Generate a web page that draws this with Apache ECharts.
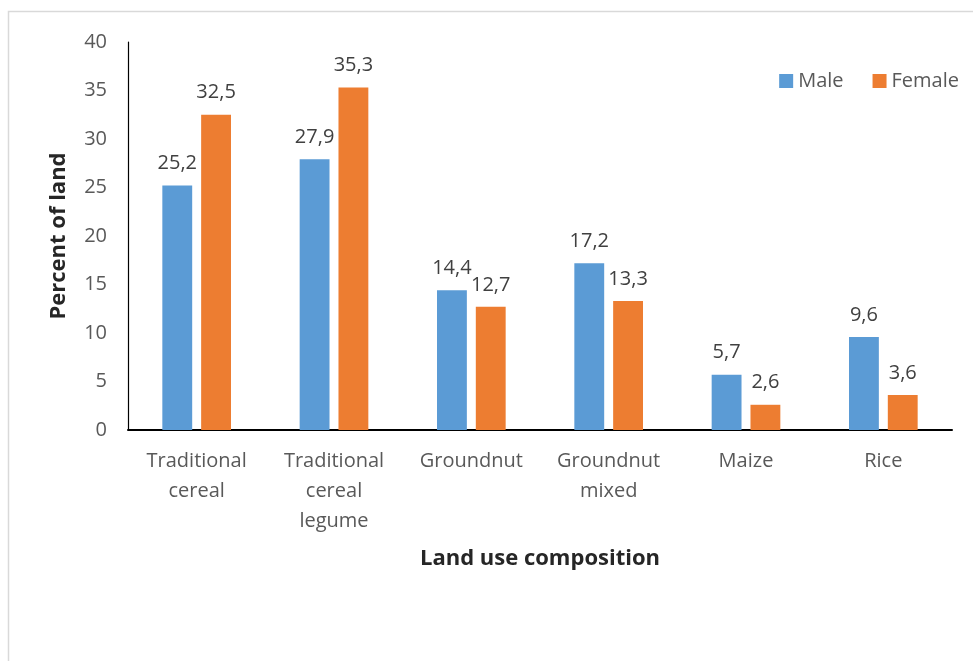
<!DOCTYPE html>
<html>
<head>
<meta charset="utf-8">
<script src="https://cdn.jsdelivr.net/npm/echarts@6/dist/echarts.min.js"></script>
<style>
  html, body { margin: 0; padding: 0; background: #fff; }
  #chart { width: 973px; height: 661px; }
</style>
</head>
<body>
<div id="chart"></div>
<script>
// Land use composition by sex of household head
const categories = [
  'Traditional\ncereal',
  'Traditional\ncereal\nlegume',
  'Groundnut',
  'Groundnut\nmixed',
  'Maize',
  'Rice'
];
const maleValues = [25.2, 27.9, 14.4, 17.2, 5.7, 9.6];
const femaleValues = [32.5, 35.3, 12.7, 13.3, 2.6, 3.6];
const yTicks = { min: 0, max: 40, step: 5 };

const FONT = '"Open Sans", "Liberation Sans", sans-serif';
const commaDecimal = p => p.value.toFixed(1).replace('.', ',');

const chart = echarts.init(document.getElementById('chart'), null, { renderer: 'canvas' });

const barLabel = {
  show: true,
  position: 'top',
  distance: 12,
  formatter: commaDecimal,
  color: '#404040',
  fontFamily: FONT,
  fontSize: 20
};

chart.setOption({
  backgroundColor: '#ffffff',
  animation: false,
  graphic: [{
    type: 'rect',
    shape: { x: 8.5, y: 11.5, width: 1200, height: 900 },
    style: { fill: 'none', stroke: '#d9d9d9', lineWidth: 1.5 },
    silent: true
  }],
  legend: {
    right: 9,
    top: 66,
    itemWidth: 14,
    itemHeight: 14,
    itemGap: 29,
    icon: 'rect',
    textStyle: { color: '#595959', fontFamily: FONT, fontSize: 20 },
    data: ['Male', 'Female']
  },
  grid: { left: 128, right: 21, top: 42, bottom: 231, containLabel: false },
  xAxis: {
    type: 'category',
    data: categories,
    name: 'Land use composition',
    nameLocation: 'middle',
    nameGap: 118,
    nameTextStyle: { color: '#262626', fontFamily: FONT, fontSize: 22, fontWeight: 'bold' },
    axisLine: { lineStyle: { color: '#000', width: 2 } },
    axisTick: { show: false },
    axisLabel: {
      color: '#595959',
      fontFamily: FONT,
      fontSize: 20,
      lineHeight: 30,
      margin: 16,
      interval: 0
    }
  },
  yAxis: {
    type: 'value',
    min: yTicks.min,
    max: yTicks.max,
    interval: yTicks.step,
    name: 'Percent of land',
    nameLocation: 'middle',
    nameGap: 58,
    nameTextStyle: { color: '#262626', fontFamily: FONT, fontSize: 22, fontWeight: 'bold' },
    axisLine: { show: true, lineStyle: { color: '#000', width: 1.2 } },
    axisTick: { show: false },
    splitLine: { show: false },
    axisLabel: { color: '#595959', fontFamily: FONT, fontSize: 20, margin: 21 }
  },
  series: [
    {
      name: 'Male',
      type: 'bar',
      data: maleValues,
      barGap: '30%',
      barCategoryGap: '50%',
      itemStyle: { color: '#5B9BD5' },
      label: barLabel
    },
    {
      name: 'Female',
      type: 'bar',
      data: femaleValues,
      barGap: '30%',
      barCategoryGap: '50%',
      itemStyle: { color: '#ED7D31' },
      label: barLabel
    }
  ]
});
</script>
</body>
</html>
